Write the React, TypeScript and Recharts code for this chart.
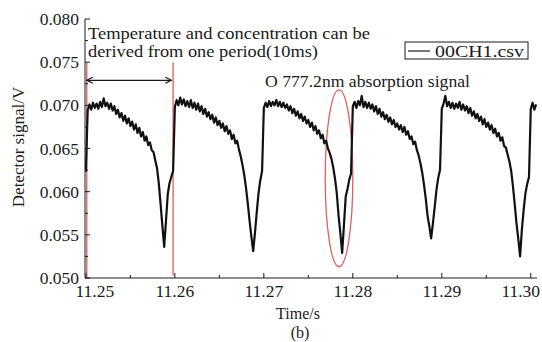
import React from "react";
import {
  LineChart,
  Line,
  XAxis,
  YAxis,
  ReferenceLine,
  ReferenceArea,
} from "recharts";

const STEP = 0.0002;
const periodStarts = [11.25, 11.26, 11.27, 11.28, 11.29];

// detector signal (V), one array per 10 ms modulation period
const period1 = [
  0.0623, 0.0694, 0.0701, 0.0695, 0.0703, 0.0697, 0.0702, 0.0696, 0.0704, 0.0698,
  0.0708, 0.0699, 0.0703, 0.0696, 0.0702, 0.0694, 0.0699, 0.069, 0.0695, 0.0686,
  0.0691, 0.0682, 0.0688, 0.0679, 0.0685, 0.0676, 0.0681, 0.0672, 0.0678, 0.0668,
  0.0674, 0.0664, 0.0669, 0.0659, 0.0664, 0.0654, 0.0657, 0.0648, 0.0646, 0.0636,
  0.0627, 0.0609, 0.0585, 0.056, 0.0536, 0.0566, 0.0597, 0.061, 0.0617, 0.0624,
];
const period2 = [
  0.0698, 0.0706, 0.07, 0.0709, 0.0701, 0.0707, 0.0699, 0.0705, 0.0698, 0.0706,
  0.0697, 0.0703, 0.0695, 0.0702, 0.0693, 0.0699, 0.069, 0.0696, 0.0687, 0.0692,
  0.0684, 0.0689, 0.068, 0.0686, 0.0677, 0.0682, 0.0674, 0.0679, 0.067, 0.0676,
  0.0667, 0.0671, 0.0661, 0.0666, 0.0656, 0.0659, 0.0649, 0.0641, 0.0631, 0.0619,
  0.0604, 0.0586, 0.0566, 0.0548, 0.0531, 0.0552, 0.0576, 0.0598, 0.0613, 0.0624,
];
const period3 = [
  0.0697, 0.0703, 0.0698, 0.0705, 0.0699, 0.0704, 0.07, 0.0706, 0.0699, 0.0704,
  0.0698, 0.0703, 0.0697, 0.0701, 0.0694, 0.0699, 0.0691, 0.0696, 0.0688, 0.0693,
  0.0685, 0.069, 0.0682, 0.0687, 0.0679, 0.0683, 0.0675, 0.068, 0.0671, 0.0676,
  0.0667, 0.0671, 0.0662, 0.0666, 0.0656, 0.0659, 0.065, 0.0645, 0.0638, 0.0628,
  0.0615, 0.0598, 0.0572, 0.0552, 0.0529, 0.0561, 0.0594, 0.0603, 0.0614, 0.0621,
];
const period4 = [
  0.0699, 0.0704, 0.0697, 0.0705, 0.07, 0.0711, 0.0698, 0.0704, 0.0697, 0.0703,
  0.0696, 0.0701, 0.0693, 0.0699, 0.069, 0.0696, 0.0687, 0.0692, 0.0684, 0.0689,
  0.0681, 0.0686, 0.0678, 0.0683, 0.0675, 0.0679, 0.0672, 0.0677, 0.0669, 0.0675,
  0.0666, 0.067, 0.0661, 0.0664, 0.0655, 0.0658, 0.0648, 0.0642, 0.0633, 0.0622,
  0.0608, 0.0592, 0.0572, 0.056, 0.0546, 0.0563, 0.0582, 0.0602, 0.0616, 0.0625,
];
const period5 = [
  0.0696, 0.0702, 0.0711, 0.0699, 0.0704, 0.0697, 0.0703, 0.0696, 0.0702, 0.0697,
  0.0704, 0.0695, 0.0701, 0.0694, 0.0699, 0.0691, 0.0697, 0.0688, 0.0693, 0.0685,
  0.069, 0.0682, 0.0687, 0.0678, 0.0684, 0.0675, 0.068, 0.0672, 0.0677, 0.0668,
  0.0673, 0.0664, 0.0668, 0.0659, 0.0663, 0.0653, 0.0651, 0.0643, 0.0635, 0.0624,
  0.0606, 0.0585, 0.0563, 0.0545, 0.0525, 0.0556, 0.0579, 0.0598, 0.0609, 0.0617,
];
const tailStart = 11.3;
const tail = [0.0696, 0.0703, 0.0695, 0.0701];

const xTicks = [
  11.25, 11.255, 11.26, 11.265, 11.27, 11.275, 11.28, 11.285, 11.29, 11.295, 11.3,
];
const yTicks = [
  0.05, 0.0525, 0.055, 0.0575, 0.06, 0.0625, 0.065, 0.0675, 0.07, 0.0725, 0.075,
  0.0775, 0.08,
];

const periods = [period1, period2, period3, period4, period5];
const data = [
  ...periods.flatMap((vals, k) =>
    vals.map((v, j) => ({ t: +(periodStarts[k] + j * STEP).toFixed(4), v }))
  ),
  ...tail.map((v, j) => ({ t: +(tailStart + j * STEP).toFixed(4), v })),
];

const FONT = "Liberation Serif";
const INK = "#1a1a1a";
const RED = "#df5f5a";
const X_DOMAIN: [number, number] = [11.2499, 11.3007];
const Y_DOMAIN: [number, number] = [0.05, 0.08];

const BottomTick = ({ x, y, payload, index }: any) => {
  const major = index % 2 === 0;
  const shift = index === 0 ? 9 : index === 10 ? -10 : 0;
  return (
    <g>
      <line x1={x} y1={y} x2={x} y2={y - (major ? 5 : 3)} stroke={INK} />
      {major && (
        <text
          x={x + shift}
          y={y + 19}
          textAnchor="middle"
          fontSize={17.5}
          style={{ fontFamily: FONT }}
          fill={INK}
        >
          {payload.value.toFixed(2)}
        </text>
      )}
    </g>
  );
};

const TopTick = ({ x, y, index }: any) => (
  <line x1={x} y1={y} x2={x} y2={y + (index % 2 === 0 ? 5 : 3)} stroke={INK} />
);

const LeftTick = ({ x, y, payload, index }: any) => {
  const major = index % 2 === 0;
  return (
    <g>
      <line x1={x} y1={y} x2={x + (major ? 5 : 3)} y2={y} stroke={INK} />
      {major && (
        <text
          x={x - 6}
          y={y + 6}
          textAnchor="end"
          fontSize={17.5}
          style={{ fontFamily: FONT }}
          fill={INK}
        >
          {payload.value.toFixed(3)}
        </text>
      )}
    </g>
  );
};

const RightTick = ({ x, y, index }: any) => (
  <line x1={x} y1={y} x2={x - (index % 2 === 0 ? 5 : 3)} y2={y} stroke={INK} />
);

const DoubleArrow = ({ x1, y1, x2, y2 }: any) => (
  <g stroke={INK} strokeWidth={1.2} fill="none">
    <line x1={x1} y1={y1} x2={x2} y2={y2} />
    <polyline points={`${x1 + 6},${y1 - 3} ${x1},${y1} ${x1 + 6},${y1 + 3}`} />
    <polyline points={`${x2 - 6},${y2 - 3} ${x2},${y2} ${x2 - 6},${y2 + 3}`} />
  </g>
);

const EllipseMark = ({ x, y, width, height }: any) => (
  <ellipse
    cx={x + width / 2}
    cy={y + height / 2}
    rx={width / 2}
    ry={height / 2}
    fill="none"
    stroke={RED}
    strokeWidth={1.3}
  />
);

export default function App() {
  const txt = { fontFamily: FONT };
  return (
    <div
      style={{
        position: "absolute",
        left: 0,
        top: 0,
        width: 542,
        height: 342,
        background: "#fff",
      }}
    >
      <LineChart
        width={542}
        height={342}
        data={data}
        margin={{ top: 19, right: 5, bottom: 0, left: 0 }}
      >
        <XAxis
          dataKey="t"
          type="number"
          domain={X_DOMAIN}
          ticks={xTicks}
          interval={0}
          allowDataOverflow
          height={64}
          tickSize={0}
          tickMargin={0}
          tick={BottomTick}
          axisLine={{ stroke: INK }}
        />
        <XAxis
          xAxisId="top"
          orientation="top"
          dataKey="t"
          type="number"
          domain={X_DOMAIN}
          ticks={xTicks}
          interval={0}
          allowDataOverflow
          height={0}
          tickSize={0}
          tickMargin={0}
          tick={TopTick}
          axisLine={{ stroke: INK }}
        />
        <YAxis
          type="number"
          domain={Y_DOMAIN}
          ticks={yTicks}
          interval={0}
          allowDataOverflow
          width={85}
          tickSize={0}
          tickMargin={0}
          tick={LeftTick}
          axisLine={{ stroke: INK }}
        />
        <YAxis
          yAxisId="right"
          orientation="right"
          type="number"
          domain={Y_DOMAIN}
          ticks={yTicks}
          interval={0}
          allowDataOverflow
          width={0}
          tickSize={0}
          tickMargin={0}
          tick={RightTick}
          axisLine={{ stroke: INK }}
        />
        <ReferenceLine
          segment={[
            { x: 11.2501, y: 0.075 },
            { x: 11.2501, y: 0.05 },
          ]}
          stroke={RED}
          strokeWidth={1.3}
        />
        <ReferenceLine
          segment={[
            { x: 11.2598, y: 0.075 },
            { x: 11.2598, y: 0.0503 },
          ]}
          stroke={RED}
          strokeWidth={1.3}
        />
        <ReferenceLine
          segment={[
            { x: 11.2501, y: 0.0729 },
            { x: 11.2596, y: 0.0729 },
          ]}
          shape={DoubleArrow}
        />
        <ReferenceArea
          x1={11.2769}
          x2={11.28}
          y1={0.0513}
          y2={0.0718}
          shape={EllipseMark}
        />
        <Line
          type="linear"
          dataKey="v"
          stroke="#111"
          strokeWidth={2.2}
          strokeLinejoin="round"
          dot={false}
          isAnimationActive={false}
        />
      </LineChart>
      <svg
        width={542}
        height={342}
        style={{ position: "absolute", left: 0, top: 0, pointerEvents: "none" }}
        fill={INK}
      >
        <text x={88} y={39} fontSize={17} style={txt} textLength={282} lengthAdjust="spacingAndGlyphs">
          Temperature and concentration can be
        </text>
        <text x={88} y={57} fontSize={17} style={txt} textLength={230} lengthAdjust="spacingAndGlyphs">
          derived from one period(10ms)
        </text>
        <text x={265} y={87} fontSize={17} style={txt} textLength={205} lengthAdjust="spacingAndGlyphs">
          O 777.2nm absorption signal
        </text>
        <rect x={405} y={42} width={123} height={17} fill="#fff" stroke={INK} />
        <line x1={408} y1={51} x2={430} y2={51} stroke={INK} strokeWidth={1.2} />
        <text x={435} y={57} fontSize={17} style={txt} textLength={89} lengthAdjust="spacingAndGlyphs">
          00CH1.csv
        </text>
        <text
          transform="translate(24,147) rotate(-90)"
          textAnchor="middle"
          fontSize={17}
          style={txt}
        >
          Detector signal/V
        </text>
        <text x={298} y={319} textAnchor="middle" fontSize={16} style={txt}>
          Time/s
        </text>
        <text x={300} y={338} textAnchor="middle" fontSize={16} style={txt}>
          (b)
        </text>
      </svg>
    </div>
  );
}
